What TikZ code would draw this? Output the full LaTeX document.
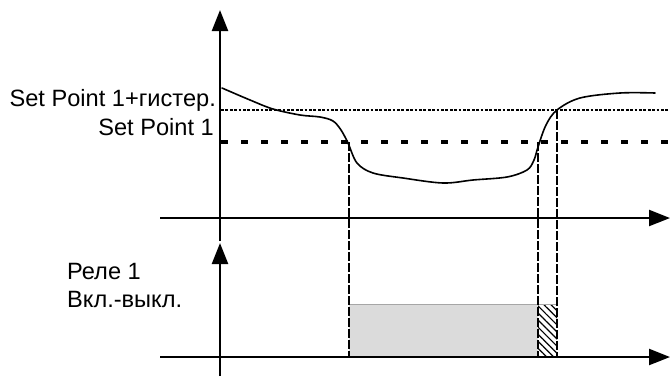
\documentclass[tikz,border=0pt]{standalone}
\usepackage{fontspec}
\setmainfont{Liberation Sans}
\usetikzlibrary{arrows.meta,patterns.meta}
\begin{document}
\begin{tikzpicture}[x=1pt,y=-1pt,
  axis/.style={line width=2.4pt,-{Triangle[length=21pt,width=16pt]}},
  curve/.style={line width=1.6pt,line cap=round},
  hyst/.style={line width=1.3pt,dash pattern=on 2.7pt off 1.7pt},
  setp/.style={line width=3.5pt,dash pattern=on 7pt off 13pt},
  vdash/.style={line width=1.3pt,dash pattern=on 9pt off 2pt},
  lbl/.style={inner sep=0pt,font=\fontsize{23.6pt}{28pt}\selectfont}]
\useasboundingbox (0,0) rectangle (670,376);
% coordinates
\coordinate (utop) at (220,10);
\coordinate (ubot) at (220,241);
\coordinate (ltop) at (220,243);
\coordinate (lbot) at (220,376);
\coordinate (ul) at (160,218);
\coordinate (ur) at (670,218);
\coordinate (ll) at (160,357);
\coordinate (lr) at (670,357);
\coordinate (h1) at (221,110);
\coordinate (h2) at (670,110);
\coordinate (s1) at (221,142);
\coordinate (s2) at (670,142);
\coordinate (a1) at (349,142);
\coordinate (a2) at (349,357);
\coordinate (b1) at (538,142);
\coordinate (b2) at (538,357);
\coordinate (c1) at (557,110);
\coordinate (c2) at (557,357);
% relay boxes
\fill[gray!28] (349,304) rectangle (538,357);
\draw[gray!70,line width=0.9pt] (349,304) -- (538,304);
\path[pattern={Lines[angle=-45,distance=5pt,line width=1.2pt]}] (538,304) rectangle (557,357);
\draw[gray!70,line width=0.9pt] (538,304) -- (557,304);
% reference lines
\draw[hyst] (h1) -- (h2);
\draw[setp] (s1) -- (s2);
\draw[vdash] (a1) -- (a2);
\draw[vdash] (b1) -- (b2);
\draw[vdash] (c1) -- (c2);
% curve
\draw[curve] plot[smooth,tension=0.55] coordinates {
 (222,88) (250,100) (273,109) (300,115) (320,117) (333,121) (341,130)
 (348,143) (357,163) (373,173) (403,178) (443,183) (473,180) (507,177)
 (527,170) (534,160) (538,147) (546,125) (557,110) (580,98) (620,93) (655,93)};
% axes
\draw[axis] (ubot) -- (utop);
\draw[axis] (lbot) -- (ltop);
\draw[axis] (ul) -- (ur);
\draw[axis] (ll) -- (lr);
% labels
\node[lbl,anchor=base east] (t1) at (216,106.5) {Set Point 1+гистер.};
\node[lbl,anchor=base east] (t2) at (214,135) {Set Point 1};
\node[lbl,anchor=base west] (t3) at (67,279) {Реле 1};
\node[lbl,anchor=base west] (t4) at (67,307) {Вкл.-выкл.};
\end{tikzpicture}
\end{document}
